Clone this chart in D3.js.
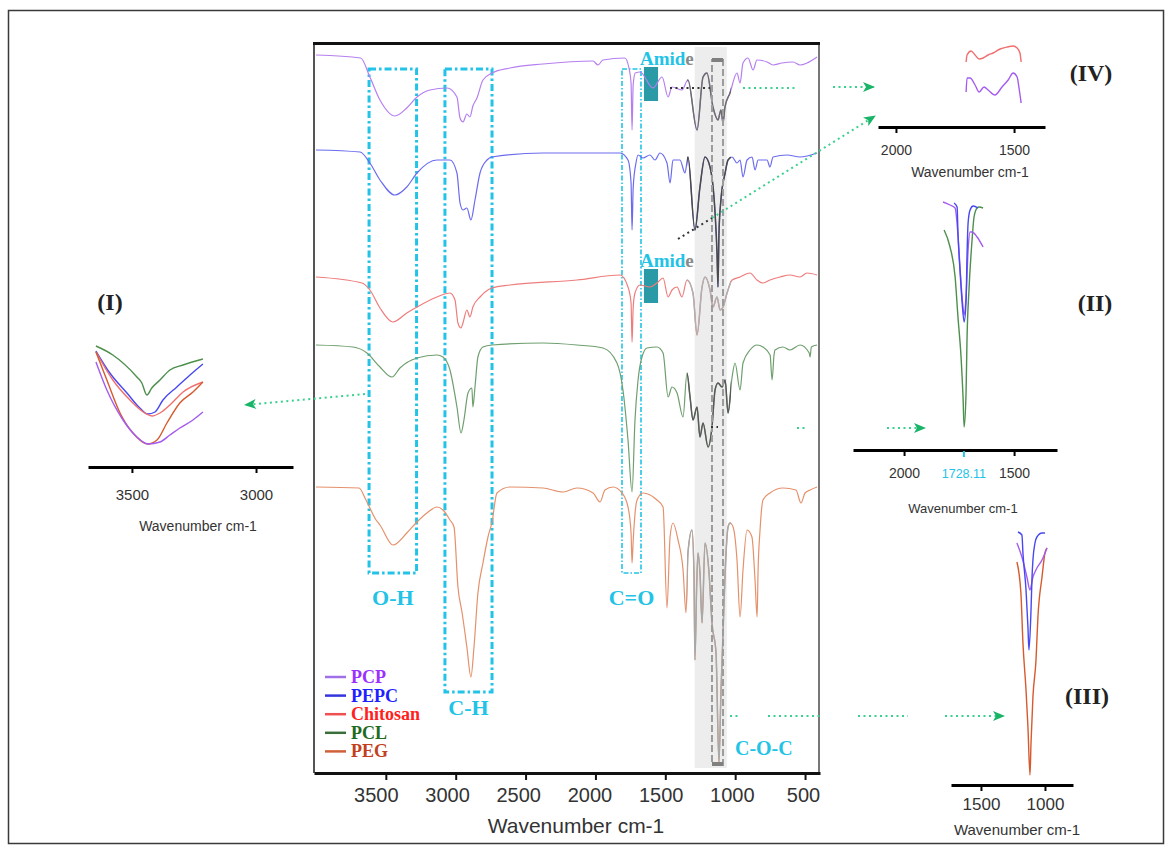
<!DOCTYPE html>
<html>
<head>
<meta charset="utf-8">
<script src="https://cdn.jsdelivr.net/npm/d3@7"></script>
<style>
  body { margin: 0; background: #fff; }
  svg { display: block; }
</style>
</head>
<body>
<div id="chart"></div>
<script>
// FTIR spectra: [wavenumber (cm-1), relative intensity (a.u.)]
const seriesNames = ["PCP", "PEPC", "Chitosan", "PCL", "PEG"];

const pcpSpectrum = [[4000,718],[3680,715],[3614,696],[3542,673],[3435,657],[3350,665],[3277,676],[3184,683],[3062,685],[2991,676],[2969,655],[2948,651],[2920,659],[2898,656],[2877,667],[2848,675],[2805,693],[2740,700],[2612,705],[2375,709],[2017,712],[1982,708],[1946,713],[1790,715],[1760,705],[1745,690],[1738,643],[1730,688],[1715,700],[1681,701],[1588,685],[1523,696],[1480,676],[1452,686],[1381,683],[1338,693],[1273,643],[1230,696],[1202,700],[1159,666],[1123,653],[1102,663],[1087,650],[1073,666],[1037,680],[987,700],[965,690],[944,710],[908,715],[872,703],[844,713],[772,711],[729,708],[665,710],[586,711],[536,708],[486,710],[414,716]];

const pepcSpectrum = [[4000,623],[3685,621],[3614,610],[3542,593],[3435,578],[3350,586],[3277,600],[3134,613],[3041,613],[2991,600],[2969,570],[2948,563],[2920,565],[2891,553],[2862,573],[2826,600],[2776,613],[2740,616],[2375,620],[1824,620],[1767,613],[1745,590],[1738,543],[1730,585],[1710,610],[1695,618],[1660,615],[1610,618],[1574,613],[1538,620],[1488,610],[1466,590],[1445,613],[1395,613],[1359,600],[1338,616],[1288,543],[1252,586],[1216,616],[1180,606],[1144,560],[1130,520],[1123,486],[1116,540],[1102,573],[1072,600],[1051,613],[1022,616],[987,610],[965,613],[944,596],[915,613],[879,616],[858,603],[836,613],[772,613],[751,606],[729,616],[629,618],[536,616],[414,620]];

const chitosanSpectrum = [[4000,496],[3671,490],[3614,483],[3542,465],[3449,451],[3350,460],[3277,466],[3134,476],[3041,480],[3005,473],[2984,450],[2962,445],[2948,450],[2920,463],[2898,456],[2877,466],[2826,476],[2740,485],[2612,488],[2132,493],[1824,498],[1767,486],[1745,470],[1738,431],[1730,465],[1717,480],[1681,488],[1610,486],[1560,490],[1516,495],[1480,476],[1452,483],[1416,486],[1381,476],[1345,493],[1302,480],[1273,438],[1237,486],[1216,496],[1180,483],[1159,466],[1130,476],[1108,463],[1087,466],[1058,480],[1022,493],[965,496],[894,500],[844,493],[801,490],[751,493],[679,496],[608,498],[536,496],[486,500],[414,498]];

const pclSpectrum = [[4000,428],[3735,426],[3635,420],[3542,406],[3456,396],[3399,405],[3277,415],[3134,418],[3091,416],[3041,403],[2991,366],[2962,340],[2941,353],[2912,380],[2884,385],[2877,366],[2862,386],[2841,416],[2805,426],[2740,428],[2375,430],[2132,428],[1946,425],[1846,410],[1803,383],[1767,333],[1738,281],[1717,353],[1695,393],[1667,416],[1631,425],[1560,426],[1516,420],[1480,376],[1452,386],[1416,380],[1373,356],[1345,400],[1323,376],[1302,353],[1273,366],[1252,336],[1230,350],[1194,326],[1166,346],[1144,383],[1123,390],[1094,386],[1072,393],[1051,360],[1022,396],[1001,410],[965,383],[944,410],[894,423],[844,428],[801,426],[750,418],[736,393],[722,418],[715,423],[658,426],[608,423],[536,428],[470,420],[464,416],[455,426],[414,428]];

const pegSpectrum = [[4000,286],[3692,285],[3642,273],[3570,253],[3542,248],[3449,228],[3350,240],[3277,251],[3206,260],[3134,266],[3091,263],[3041,253],[3012,246],[2984,186],[2955,161],[2920,126],[2891,96],[2869,126],[2841,180],[2805,210],[2769,236],[2740,251],[2705,280],[2612,286],[2375,285],[2232,281],[2132,285],[2017,280],[1967,271],[1932,283],[1874,286],[1810,280],[1767,266],[1745,240],[1738,210],[1730,232],[1715,262],[1702,273],[1660,280],[1560,273],[1516,266],[1488,165],[1466,236],[1445,250],[1409,233],[1373,203],[1352,160],[1338,220],[1309,243],[1295,200],[1288,113],[1275,190],[1266,220],[1252,200],[1237,150],[1216,230],[1187,200],[1166,150],[1137,120],[1116,10],[1102,80],[1087,140],[1072,200],[1051,246],[1037,250],[1015,246],[987,213],[965,156],[944,203],[915,243],[880,236],[858,193],[843,156],[836,203],[822,243],[801,273],[751,280],[658,285],[565,283],[529,270],[500,280],[464,283],[414,286]];

const mainTicks = [3500, 3000, 2500, 2000, 1500, 1000, 500];

// marked regions (cm-1)
const bandBoxes = [
    { label: "O-H", from: 3620, to: 3280 },
    { label: "C-H", from: 3077, to: 2740 },
    { label: "C=O", from: 1810, to: 1674 }
];
const greyBand = [1290, 1060];
const cocBox = [1166, 1087];
const amideBand = [1653, 1552];

// inset (I): O-H region
const ohPcp = [[3645,105],[3601,77],[3536,47],[3480,30],[3436,23],[3387,25],[3347,32],[3307,39],[3254,47],[3214,55]];
const ohPepc = [[3645,116],[3589,94],[3520,74],[3468,59],[3436,53],[3407,55],[3375,67],[3319,80],[3266,92],[3214,103]];
const ohChitosan = [[3645,115],[3577,87],[3508,67],[3448,54],[3419,51],[3387,54],[3347,62],[3294,75],[3214,85]];
const ohPcl = [[3645,121],[3577,112],[3480,90],[3460,84],[3440,72],[3420,79],[3387,87],[3347,97],[3294,102],[3214,108]];
const ohPeg = [[3645,115],[3601,87],[3548,54],[3496,34],[3436,23],[3399,27],[3359,44],[3307,64],[3254,75],[3214,85]];
const ohTicks = [3500, 3000];

// inset (II): C=O region
const coPcp = [[1823,248],[1791,245],[1768,242],[1755,215],[1745,180],[1736,152],[1727,135],[1718,155],[1709,200],[1700,218],[1691,218],[1668,213],[1641,203]];
const coPepc = [[1773,247],[1759,243],[1755,217],[1745,177],[1736,147],[1727,128],[1718,150],[1714,193],[1709,227],[1700,240],[1686,244],[1664,242]];
const coPcl = [[1818,220],[1791,203],[1768,173],[1755,133],[1741,93],[1732,53],[1727,23],[1718,60],[1714,110],[1705,160],[1691,210],[1682,233],[1668,242],[1659,243],[1641,242]];
const coTicks = [2000, 1500];
const coPeak = 1728.11;

// inset (III): C-O-C region
const cocPcp = [[1219,242],[1180,228],[1141,208],[1117,195],[1094,208],[1078,213],[1063,217],[1023,225],[984,237]];
const cocPepc = [[1211,253],[1180,250],[1172,232],[1148,195],[1133,158],[1125,135],[1109,175],[1101,208],[1094,225],[1078,242],[1063,248],[1023,252],[1000,252]];
const cocPeg = [[1219,223],[1188,192],[1172,142],[1148,95],[1133,58],[1117,10],[1109,42],[1094,88],[1070,125],[1055,168],[1023,208],[1000,232],[984,237]];
const cocTicks = [1500, 1000];

// inset (IV): amide region
const amidePcp = [[1703,35],[1699,49],[1686,49],[1665,42],[1648,35],[1627,40],[1610,37],[1581,32],[1551,40],[1525,47],[1504,54],[1487,50],[1479,39],[1470,24]];
const amideChitosan = [[1703,65],[1699,72],[1682,76],[1665,72],[1648,68],[1631,69],[1610,72],[1589,74],[1559,78],[1529,80],[1504,81],[1487,79],[1475,74],[1470,65]];
const amideTicks = [2000, 1500];

// colours
const traceColor = { PCP: "#b67ff0", PEPC: "#6b6bef", Chitosan: "#ef7c7c", PCL: "#6f9f6f", PEG: "#e5916c" };
const insetColor = { PCP: "#a45cf0", PEPC: "#4848f0", Chitosan: "#f07070", PCL: "#4d8f4d", PEG: "#d65a2e" };
const greyColor = { PCP: "#6d6d6d", PEPC: "#4a4a4a", Chitosan: "#b0b0b0", PCL: "#5a5a5a", PEG: "#a8a8a8" };
const legendText = { PCP: "#9b30ff", PEPC: "#1f1fff", Chitosan: "#ff2020", PCL: "#1e6a1e", PEG: "#c2401e" };
const legendLine = { PCP: "#a070e8", PEPC: "#3535e0", Chitosan: "#f05050", PCL: "#3a6e3a", PEG: "#d0603a" };
const cyan = "#22c3e6";
const arrowGreen = "#3ad08f";
const sans = "'Liberation Sans', Arial, sans-serif";
const serif = "'Liberation Serif', 'Times New Roman', serif";

const spectra = [pcpSpectrum, pepcSpectrum, chitosanSpectrum, pclSpectrum, pegSpectrum];

// create svg
const width = 1170, height = 851;
const svg = d3.select("#chart").append("svg")
    .attr("width", width)
    .attr("height", height);

const defs = svg.append("defs");
defs.append("marker")
    .attr("id", "arrowHead")
    .attr("viewBox", "0 0 12 10")
    .attr("refX", 11).attr("refY", 5)
    .attr("markerWidth", 13).attr("markerHeight", 10)
    .attr("markerUnits", "userSpaceOnUse")
    .attr("orient", "auto")
    .append("path")
    .attr("d", "M0,0 L12,5 L0,10 L3,5 Z")
    .attr("fill", "#18b468");

// outer frame
svg.append("rect")
    .attr("x", 8.5).attr("y", 10.5)
    .attr("width", 1155).attr("height", 833)
    .attr("fill", "none")
    .attr("stroke", "#3a3a3a")
    .attr("stroke-width", 1.5);

// main chart
function mainChart() {
    const x = d3.scaleLinear().domain([4014, 393]).range([314, 820]);
    const y = d3.scaleLinear().domain([0, 730]).range([773, 43]);
    const g = svg.append("g").attr("id", "mainChart");

    // grey fingerprint band
    g.append("rect")
        .attr("x", x(greyBand[0])).attr("y", 47)
        .attr("width", x(greyBand[1]) - x(greyBand[0])).attr("height", 721)
        .attr("fill", "#ededed");

    // dashed band boxes
    bandBoxes.forEach(b => {
        const thin = b.label === "C=O";
        const bottom = b.label === "C-H" ? 692 : 573;
        g.append("rect")
            .attr("x", x(b.from)).attr("y", 69)
            .attr("width", x(b.to) - x(b.from)).attr("height", bottom - 69)
            .attr("fill", "none")
            .attr("stroke", cyan)
            .attr("stroke-width", thin ? 1.6 : 3)
            .attr("stroke-dasharray", thin ? "5,2,1.5,2" : "7,3,2.5,3");
        g.append("text")
            .attr("x", (x(b.from) + x(b.to)) / 2)
            .attr("y", bottom + (b.label === "C-H" ? 23 : 32))
            .attr("text-anchor", "middle")
            .attr("font-family", serif).attr("font-weight", "bold")
            .attr("font-size", 22)
            .attr("fill", cyan)
            .text(b.label);
    });

    // amide markers
    [[67, 65], [269, 267]].forEach(([top, base]) => {
        g.append("rect")
            .attr("x", x(amideBand[0])).attr("y", top)
            .attr("width", x(amideBand[1]) - x(amideBand[0])).attr("height", 34)
            .attr("fill", "#2a9ba6");
        const t = g.append("text")
            .attr("x", x(amideBand[0]) - 4).attr("y", base)
            .attr("font-family", serif).attr("font-weight", "bold")
            .attr("font-size", 19)
            .attr("fill", cyan)
            .text("Amid");
        t.append("tspan").attr("fill", "#8a8a8a").text("e");
    });

    // spectra
    const line = d3.line()
        .x(d => x(d[0]))
        .y(d => y(d[1]))
        .curve(d3.curveMonotoneX);

    defs.append("clipPath").attr("id", "greyClip")
        .append("rect")
        .attr("x", 687).attr("y", 43)
        .attr("width", 44).attr("height", 730);

    spectra.forEach((s, i) => {
        g.append("path")
            .datum(s)
            .attr("d", line)
            .attr("fill", "none")
            .attr("stroke", traceColor[seriesNames[i]])
            .attr("stroke-width", 1.2);
    });
    spectra.forEach((s, i) => {
        g.append("path")
            .datum(s)
            .attr("d", line)
            .attr("clip-path", "url(#greyClip)")
            .attr("fill", "none")
            .attr("stroke", greyColor[seriesNames[i]])
            .attr("stroke-width", 1.5);
    });

    // C-O-C dashed box
    g.append("rect")
        .attr("x", x(cocBox[0])).attr("y", 60)
        .attr("width", x(cocBox[1]) - x(cocBox[0])).attr("height", 705)
        .attr("fill", "none")
        .attr("stroke", "#9c9c9c")
        .attr("stroke-width", 2)
        .attr("stroke-dasharray", "7,3");
    [58, 762].forEach(yy => {
        g.append("rect")
            .attr("x", x(cocBox[0])).attr("y", yy)
            .attr("width", x(cocBox[1]) - x(cocBox[0])).attr("height", 4)
            .attr("fill", "#808080");
    });
    g.append("text")
        .attr("x", x(795)).attr("y", 755)
        .attr("text-anchor", "middle")
        .attr("font-family", serif).attr("font-weight", "bold")
        .attr("font-size", 20)
        .attr("fill", cyan)
        .text("C-O-C");

    // frame
    g.append("line").attr("x1", 314).attr("x2", 314).attr("y1", 43).attr("y2", 773)
        .attr("stroke", "#555").attr("stroke-width", 2);
    g.append("line").attr("x1", 819).attr("x2", 819).attr("y1", 43).attr("y2", 773)
        .attr("stroke", "#777").attr("stroke-width", 2);
    g.append("line").attr("x1", 313).attr("x2", 820).attr("y1", 43.5).attr("y2", 43.5)
        .attr("stroke", "#111").attr("stroke-width", 3);

    // axis
    const axis = d3.axisBottom(x)
        .tickValues(mainTicks)
        .tickSize(7)
        .tickSizeOuter(0)
        .tickFormat(d3.format("d"));
    const ax = g.append("g").attr("transform", "translate(0,773)").call(axis);
    ax.select(".domain").attr("stroke", "#111").attr("stroke-width", 3);
    ax.selectAll(".tick line").attr("stroke", "#111").attr("stroke-width", 2);
    ax.selectAll(".tick text")
        .attr("y", 29).attr("dy", 0)
        .attr("dx", d => -2 - (d - 500) / 3000 * 8)
        .attr("font-family", sans).attr("font-size", 20)
        .attr("fill", "#333");
    g.append("text")
        .attr("x", 576).attr("y", 833)
        .attr("text-anchor", "middle")
        .attr("font-family", sans).attr("font-size", 21)
        .attr("fill", "#333")
        .text("Wavenumber cm-1");

    // legend
    const lg = g.append("g").attr("id", "legend");
    seriesNames.forEach((name, i) => {
        const yy = 677 + i * 18.6;
        lg.append("line")
            .attr("x1", 325).attr("x2", 346)
            .attr("y1", yy).attr("y2", yy)
            .attr("stroke", legendLine[name]).attr("stroke-width", 2.5);
        lg.append("text")
            .attr("x", 351).attr("y", yy + 6)
            .attr("font-family", serif).attr("font-weight", "bold")
            .attr("font-size", 18)
            .attr("fill", legendText[name])
            .text(name);
    });
}

// zoomed panels
function drawInset(cfg) {
    const g = svg.append("g").attr("class", "inset");
    const xs = d3.scaleLinear().domain(cfg.domain).range(cfg.range);
    const ys = d3.scaleLinear().domain([0, 300]).range([cfg.axisY, cfg.axisY - 300]);
    const line = d3.line()
        .x(d => xs(d[0]))
        .y(d => ys(d[1]))
        .curve(d3.curveMonotoneX);

    cfg.series.forEach(s => {
        g.append("path")
            .datum(s.data)
            .attr("d", line)
            .attr("fill", "none")
            .attr("stroke", insetColor[s.name])
            .attr("stroke-width", 1.4);
    });

    const axis = d3.axisBottom(xs)
        .tickValues(cfg.ticks)
        .tickSize(6)
        .tickSizeOuter(0)
        .tickFormat(d3.format("d"));
    const ax = g.append("g").attr("transform", `translate(0,${cfg.axisY})`).call(axis);
    ax.select(".domain").attr("stroke", "#000").attr("stroke-width", 3);
    ax.selectAll(".tick line").attr("stroke", "#000").attr("stroke-width", 2);
    ax.selectAll(".tick text")
        .attr("y", cfg.labelY).attr("dy", 0)
        .attr("font-family", sans).attr("font-size", cfg.tickFont)
        .attr("fill", "#333");

    if (cfg.peak) {
        g.append("line")
            .attr("x1", xs(cfg.peak)).attr("x2", xs(cfg.peak))
            .attr("y1", cfg.axisY + 1).attr("y2", cfg.axisY + 7)
            .attr("stroke", cyan).attr("stroke-width", 2);
        g.append("text")
            .attr("x", xs(cfg.peak)).attr("y", cfg.axisY + cfg.labelY)
            .attr("text-anchor", "middle")
            .attr("font-family", sans).attr("font-size", 12.5)
            .attr("fill", cyan)
            .text(cfg.peak.toFixed(2));
    }

    g.append("text")
        .attr("x", cfg.titleX).attr("y", cfg.titleY)
        .attr("text-anchor", "middle")
        .attr("font-family", sans).attr("font-size", cfg.titleFont)
        .attr("fill", "#333")
        .text("Wavenumber cm-1");

    g.append("text")
        .attr("x", cfg.tagX).attr("y", cfg.tagY)
        .attr("text-anchor", "middle")
        .attr("font-family", serif).attr("font-weight", "bold")
        .attr("font-size", 24)
        .attr("fill", "#222")
        .text(cfg.tag);
}

// dotted connector arrows
function drawArrows() {
    const g = svg.append("g").attr("id", "arrows");
    const segments = [
        { pts: [[670, 88], [710, 88]], color: "#333" },
        { pts: [[743, 88], [798, 88]], color: arrowGreen },
        { pts: [[833, 87], [874, 87]], color: arrowGreen, head: true },
        { pts: [[678, 239], [712, 218]], color: "#333" },
        { pts: [[712, 218], [875, 116]], color: arrowGreen, head: true },
        { pts: [[365, 394], [245, 405]], color: arrowGreen, head: true },
        { pts: [[711, 427], [718, 427]], color: "#333" },
        { pts: [[797, 428], [805, 428]], color: arrowGreen },
        { pts: [[887, 428], [925, 428]], color: arrowGreen, head: true },
        { pts: [[730, 716], [738, 716]], color: arrowGreen },
        { pts: [[768, 716], [822, 716]], color: arrowGreen },
        { pts: [[858, 716], [908, 716]], color: arrowGreen },
        { pts: [[945, 716], [1004, 716]], color: arrowGreen, head: true }
    ];
    segments.forEach(s => {
        g.append("path")
            .attr("d", d3.line()(s.pts))
            .attr("fill", "none")
            .attr("stroke", s.color)
            .attr("stroke-width", 2)
            .attr("stroke-dasharray", "2,3.5")
            .attr("marker-end", s.head ? "url(#arrowHead)" : null);
    });
}

mainChart();

drawInset({
    tag: "(I)", tagX: 110, tagY: 310,
    domain: [3677, 2851], range: [88, 293], axisY: 467,
    ticks: ohTicks, labelY: 33, tickFont: 15,
    titleX: 198, titleY: 531, titleFont: 14,
    series: [
        { name: "PCL", data: ohPcl },
        { name: "PEPC", data: ohPepc },
        { name: "Chitosan", data: ohChitosan },
        { name: "PEG", data: ohPeg },
        { name: "PCP", data: ohPcp }
    ]
});

drawInset({
    tag: "(II)", tagX: 1095, tagY: 311,
    domain: [2232, 1305], range: [853, 1057], axisY: 450,
    ticks: coTicks, labelY: 28, tickFont: 14, peak: coPeak,
    titleX: 963, titleY: 513, titleFont: 13,
    series: [
        { name: "PCL", data: coPcl },
        { name: "PCP", data: coPcp },
        { name: "PEPC", data: coPepc }
    ]
});

drawInset({
    tag: "(III)", tagX: 1087, tagY: 704,
    domain: [1734, 781], range: [951, 1073], axisY: 785,
    ticks: cocTicks, labelY: 25, tickFont: 17,
    titleX: 1017, titleY: 835, titleFont: 15,
    series: [
        { name: "PEG", data: cocPeg },
        { name: "PCP", data: cocPcp },
        { name: "PEPC", data: cocPepc }
    ]
});

drawInset({
    tag: "(IV)", tagX: 1091, tagY: 81,
    domain: [2076, 1369], range: [878, 1045], axisY: 127,
    ticks: amideTicks, labelY: 28, tickFont: 14,
    titleX: 970, titleY: 177, titleFont: 14,
    series: [
        { name: "Chitosan", data: amideChitosan },
        { name: "PCP", data: amidePcp }
    ]
});

drawArrows();
</script>
</body>
</html>
